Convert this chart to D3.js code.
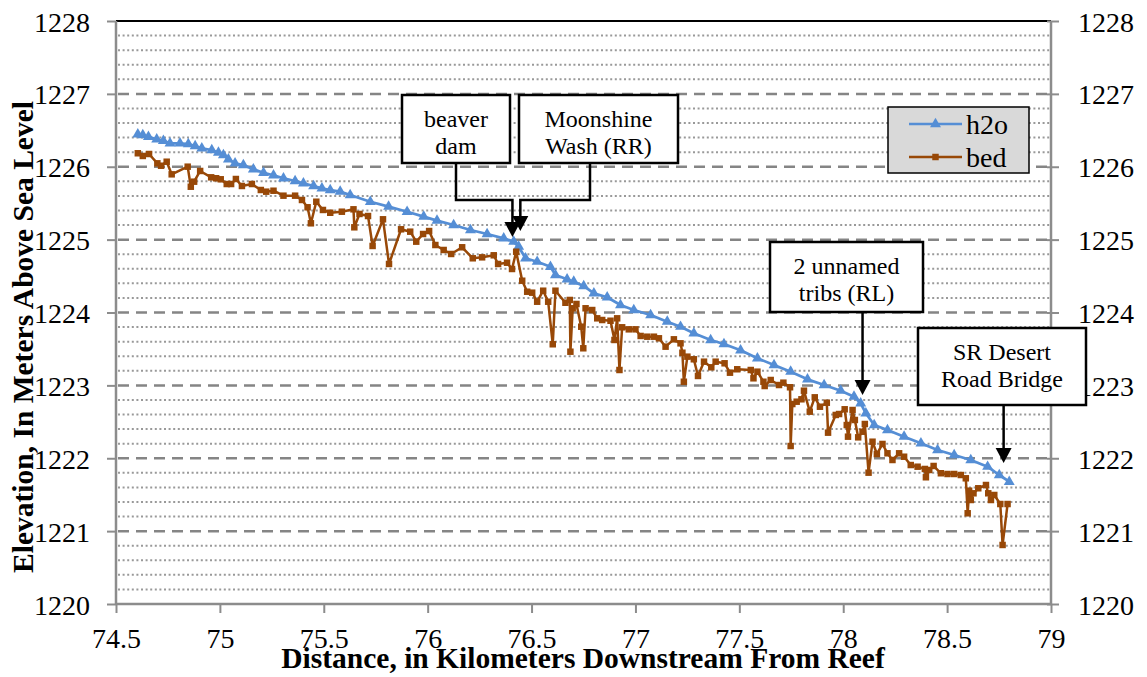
<!DOCTYPE html>
<html><head><meta charset="utf-8">
<script src="https://cdn.jsdelivr.net/npm/d3@7"></script>
<style>
body{margin:0;background:#fff}
svg{display:block}
</style>
</head><body>
<svg id="chart" width="1147" height="677"></svg>
<script>
// ---------------- DATA ----------------
const bedKm = [74.605,74.629,74.659,74.699,74.717,74.744,74.768,74.845,74.860,74.876,74.905,74.958,74.982,75.004,75.033,75.054,75.077,75.106,75.154,75.197,75.223,75.258,75.306,75.362,75.395,75.422,75.438,75.464,75.496,75.531,75.587,75.643,75.647,75.672,75.713,75.735,75.785,75.814,75.872,75.916,75.945,75.978,76.007,76.037,76.077,76.113,76.166,76.217,76.262,76.318,76.339,76.382,76.406,76.426,76.455,76.479,76.503,76.527,76.556,76.580,76.602,76.615,76.663,76.684,76.687,76.698,76.716,76.739,76.749,76.760,76.792,76.816,76.840,76.880,76.899,76.912,76.923,76.936,76.968,77.000,77.025,77.057,77.089,77.113,77.145,77.185,77.217,77.226,77.233,77.250,77.281,77.301,77.330,77.365,77.386,77.429,77.455,77.490,77.555,77.568,77.587,77.616,77.622,77.651,77.691,77.712,77.744,77.747,77.755,77.776,77.799,77.811,77.839,77.863,77.888,77.921,77.927,77.964,77.980,78.007,78.017,78.023,78.045,78.056,78.072,78.093,78.104,78.122,78.141,78.162,78.189,78.213,78.237,78.269,78.293,78.325,78.358,78.393,78.398,78.414,78.435,78.470,78.502,78.534,78.566,78.590,78.599,78.606,78.614,78.627,78.650,78.687,78.698,78.711,78.727,78.756,78.767,78.791];
const bedElev = [1226.185,1226.148,1226.175,1226.047,1226.014,1226.069,1225.896,1226.001,1225.726,1225.795,1225.942,1225.855,1225.842,1225.828,1225.763,1225.763,1225.832,1225.736,1225.763,1225.681,1225.658,1225.671,1225.603,1225.603,1225.544,1225.444,1225.224,1225.520,1225.407,1225.369,1225.383,1225.416,1225.169,1225.352,1225.324,1224.913,1225.279,1224.666,1225.142,1225.109,1224.972,1225.077,1225.118,1224.926,1224.858,1224.803,1224.895,1224.744,1224.757,1224.785,1224.666,1224.683,1224.597,1224.834,1224.436,1224.285,1224.272,1224.148,1224.299,1224.148,1223.564,1224.299,1224.134,1224.172,1223.462,1224.058,1224.117,1223.805,1223.509,1224.058,1224.034,1223.920,1223.897,1223.887,1223.623,1223.920,1223.211,1223.797,1223.769,1223.769,1223.678,1223.668,1223.668,1223.646,1223.531,1223.632,1223.577,1223.448,1223.050,1223.394,1223.358,1223.129,1223.325,1223.248,1223.325,1223.303,1223.174,1223.221,1223.211,1223.097,1223.188,1223.050,1222.991,1223.074,1223.005,1223.037,1222.974,1222.168,1222.744,1222.776,1222.809,1222.927,1222.639,1222.836,1222.707,1222.762,1222.351,1222.594,1222.607,1222.672,1222.456,1222.296,1222.662,1222.525,1222.287,1222.364,1222.470,1221.802,1222.227,1222.058,1222.196,1222.068,1221.976,1222.068,1222.021,1221.907,1221.884,1221.853,1221.739,1221.839,1221.894,1221.794,1221.784,1221.784,1221.770,1221.725,1221.245,1221.555,1221.427,1221.519,1221.588,1221.633,1221.519,1221.427,1221.496,1221.372,1220.810,1221.372];
const h2oKm = [74.605,74.629,74.656,74.696,74.728,74.760,74.808,74.848,74.881,74.913,74.961,74.993,75.017,75.041,75.073,75.113,75.161,75.210,75.258,75.306,75.362,75.402,75.451,75.491,75.531,75.579,75.627,75.724,75.812,75.901,75.981,76.045,76.125,76.206,76.286,76.366,76.414,76.438,76.471,76.527,76.591,76.615,76.671,76.703,76.751,76.800,76.864,76.928,76.992,77.073,77.153,77.217,77.281,77.362,77.426,77.506,77.587,77.667,77.747,77.828,77.908,77.988,78.052,78.084,78.109,78.149,78.213,78.293,78.374,78.454,78.534,78.614,78.695,78.751,78.799];
const h2oElev = [1226.445,1226.436,1226.412,1226.377,1226.357,1226.322,1226.322,1226.312,1226.285,1226.253,1226.230,1226.193,1226.161,1226.102,1226.047,1226.024,1225.965,1225.918,1225.883,1225.842,1225.804,1225.773,1225.736,1225.704,1225.681,1225.658,1225.612,1225.520,1225.452,1225.383,1225.315,1225.260,1225.201,1225.132,1225.077,1225.018,1224.972,1224.903,1224.744,1224.697,1224.628,1224.515,1224.456,1224.423,1224.364,1224.263,1224.209,1224.103,1224.034,1223.966,1223.874,1223.805,1223.715,1223.623,1223.568,1223.481,1223.372,1223.280,1223.188,1223.083,1223.005,1222.927,1222.845,1222.754,1222.617,1222.456,1222.388,1222.296,1222.205,1222.113,1222.045,1221.976,1221.884,1221.770,1221.678];
const seriesNames = ["h2o", "bed"];
const xTickValues = [74.5, 75, 75.5, 76, 76.5, 77, 77.5, 78, 78.5, 79];
const xTickLabels = ["74.5", "75", "75.5", "76", "76.5", "77", "77.5", "78", "78.5", "79"];
const yTickValues = [1220, 1221, 1222, 1223, 1224, 1225, 1226, 1227, 1228];
const yTickLabels = ["1220", "1221", "1222", "1223", "1224", "1225", "1226", "1227", "1228"];
const xTitle = "Distance, in Kilometers Downstream From Reef";
const yTitle = "Elevation, In Meters Above Sea Level";
const noteLabels = [["beaver", "dam"], ["Moonshine", "Wash (RR)"], ["2 unnamed", "tribs (RL)"], ["SR Desert", "Road Bridge"]];
const noteKm = [76.408, 76.446, 78.093, 78.772];
const noteElev = [1225.036, 1225.118, 1222.868, 1221.935];

// ---------------- LAYOUT / STYLE ----------------
const M = {left: 116, right: 1051, top: 21, bottom: 604};
const colors = {h2o: "#558ED5", bed: "#984807"};
const FONT = "Liberation Serif";
const noteBoxes = [
  {x: 402, y: 95, w: 108, h: 68, fromX: 456, elbowY: 200},
  {x: 519, y: 95, w: 159, h: 68, fromX: 590, elbowY: 200},
  {x: 770, y: 242, w: 153, h: 70, fromX: null, elbowY: null},
  {x: 918, y: 328, w: 168, h: 77, fromX: null, elbowY: null}
];

const svg = d3.select("#chart");
const x = d3.scaleLinear().domain([74.5, 79]).range([M.left, M.right]);
const y = d3.scaleLinear().domain([1220, 1228]).range([M.bottom, M.top]);

// grid
const minor = d3.range(1220, 1228.001, 0.2).filter(v => Math.abs(v - Math.round(v)) > 0.01);
svg.append("g").selectAll("line").data(minor).join("line")
  .attr("x1", M.left + 2).attr("x2", M.right - 1)
  .attr("y1", d => y(d)).attr("y2", d => y(d))
  .attr("stroke", "#999").attr("stroke-width", 2).attr("stroke-dasharray", "2,2.6");
svg.append("g").selectAll("line").data(yTickValues.filter(v => v > 1220 && v < 1228)).join("line")
  .attr("x1", M.left + 2).attr("x2", M.right - 1)
  .attr("y1", d => y(d)).attr("y2", d => y(d))
  .attr("stroke", "#858585").attr("stroke-width", 2.5).attr("stroke-dasharray", "11,7");
svg.append("line").attr("x1", M.left).attr("x2", M.right).attr("y1", y(1228)).attr("y2", y(1228))
  .attr("stroke", "#000").attr("stroke-width", 2);

// axes
const axisColor = "#8c8c8c";
const yLeft = svg.append("g").attr("transform", `translate(${M.left},0)`)
  .call(d3.axisLeft(y).tickValues(yTickValues).tickFormat((d, i) => yTickLabels[i]).tickSize(9).tickPadding(17));
const yRight = svg.append("g").attr("transform", `translate(${M.right},0)`)
  .call(d3.axisRight(y).tickValues(yTickValues).tickFormat((d, i) => yTickLabels[i]).tickSize(8).tickPadding(19));
const xBottom = svg.append("g").attr("transform", `translate(0,${M.bottom})`)
  .call(d3.axisBottom(x).tickValues(xTickValues).tickFormat((d, i) => xTickLabels[i]).tickSize(9).tickPadding(15));
[yLeft, yRight, xBottom].forEach(g => {
  g.attr("font-family", FONT).attr("font-size", 28);
  g.select(".domain").attr("stroke", axisColor).attr("stroke-width", 2.5);
  g.selectAll(".tick line").attr("stroke", axisColor).attr("stroke-width", 2);
  g.selectAll(".tick text").attr("font-size", 28).attr("font-family", FONT).attr("fill", "#000");
});
yLeft.select(".domain").attr("d", `M0,${M.bottom}V${M.top}`);
yRight.select(".domain").attr("d", `M0,${M.bottom}V${M.top}`);
xBottom.select(".domain").attr("d", `M${M.left},0H${M.right}`);
yRight.selectAll(".tick line").attr("x1", -4);
yLeft.selectAll(".tick text").attr("dy", "0.36em");
yRight.selectAll(".tick text").attr("dy", "0.36em");
xBottom.selectAll(".tick text").attr("dy", "0.71em");

// titles
svg.append("text").attr("x", 583).attr("y", 668).attr("text-anchor", "middle")
  .attr("font-family", FONT).attr("font-size", 29.5).attr("font-weight", "bold").attr("fill", "#000").text(xTitle);
svg.append("text").attr("transform", "translate(33,337) rotate(-90)").attr("text-anchor", "middle")
  .attr("font-family", FONT).attr("font-size", 29.5).attr("font-weight", "bold").attr("fill", "#000").text(yTitle);

// series
const h2oData = h2oKm.map((k, i) => [k, h2oElev[i]]);
const bedData = bedKm.map((k, i) => [k, bedElev[i]]);
const line = d3.line().x(d => x(d[0])).y(d => y(d[1]));
const tri = d3.symbol().type(d3.symbolTriangle).size(52);
const sq = d3.symbol().type(d3.symbolSquare).size(42);

svg.append("path").datum(h2oData).attr("d", line).attr("fill", "none")
  .attr("stroke", colors.h2o).attr("stroke-width", 2.75).attr("stroke-linejoin", "round");
svg.append("g").selectAll("path").data(h2oData).join("path")
  .attr("transform", d => `translate(${x(d[0])},${y(d[1])})`).attr("d", tri).attr("fill", colors.h2o);

svg.append("path").datum(bedData).attr("d", line).attr("fill", "none")
  .attr("stroke", colors.bed).attr("stroke-width", 2.5).attr("stroke-linejoin", "round");
svg.append("g").selectAll("path").data(bedData).join("path")
  .attr("transform", d => `translate(${x(d[0])},${y(d[1])})`).attr("d", sq).attr("fill", colors.bed);

// legend
const lg = svg.append("g");
lg.append("rect").attr("x", 888).attr("y", 107).attr("width", 141).attr("height", 66)
  .attr("fill", "#d9d9d9").attr("stroke", "#000").attr("stroke-width", 1.5);
seriesNames.forEach((name, i) => {
  const ly = 124 + i * 33;
  lg.append("line").attr("x1", 909).attr("x2", 962).attr("y1", ly).attr("y2", ly)
    .attr("stroke", colors[name]).attr("stroke-width", 2.5);
  lg.append("path").attr("transform", `translate(935.5,${ly})`).attr("d", i === 0 ? tri : sq).attr("fill", colors[name]);
  lg.append("text").attr("x", 966).attr("y", ly + 9.5).attr("font-family", FONT).attr("font-size", 28)
    .attr("fill", "#000").text(name);
});

// annotations
noteLabels.forEach((lines, i) => {
  const b = noteBoxes[i];
  const tx = x(noteKm[i]), ty = y(noteElev[i]);
  const g = svg.append("g");
  let pts;
  if (b.elbowY !== null) {
    pts = [[b.fromX, b.y + b.h], [b.fromX, b.elbowY], [tx, b.elbowY], [tx, ty - 13]];
  } else {
    pts = [[tx, b.y + b.h], [tx, ty - 13]];
  }
  g.append("path").attr("d", d3.line()(pts)).attr("fill", "none").attr("stroke", "#000").attr("stroke-width", 2.5);
  g.append("path").attr("d", `M${tx - 8},${ty - 15}L${tx + 8},${ty - 15}L${tx},${ty}Z`).attr("fill", "#000");
  g.append("rect").attr("x", b.x).attr("y", b.y).attr("width", b.w).attr("height", b.h)
    .attr("fill", "#fff").attr("stroke", "#000").attr("stroke-width", 2.5);
  const cx = b.x + b.w / 2;
  lines.forEach((t, j) => {
    g.append("text").attr("x", cx).attr("y", b.y + (j === 0 ? 32 : 59)).attr("text-anchor", "middle")
      .attr("font-family", FONT).attr("font-size", 24).attr("fill", "#000").text(t);
  });
});
</script>
</body></html>
